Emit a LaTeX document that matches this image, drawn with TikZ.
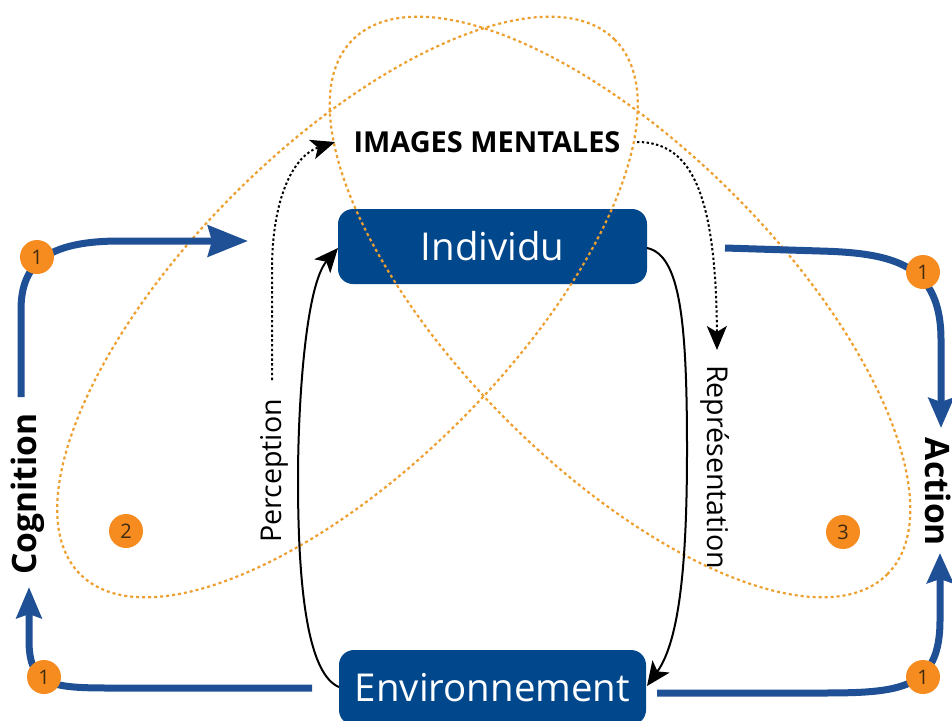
\documentclass[tikz,border=0pt]{standalone}
\usepackage{fontspec}
\setmainfont{Open Sans}
\usetikzlibrary{arrows.meta}
\definecolor{boxblue}{HTML}{00478C}
\definecolor{lineblue}{HTML}{1F4F94}
\definecolor{badgeor}{HTML}{F68B1F}
\definecolor{dotor}{HTML}{EDA02F}
\definecolor{numcol}{HTML}{3F2A10}
\tikzset{
  boxnode/.style={fill=boxblue,rounded corners=15pt,text=white,minimum height=75pt,inner sep=0pt,align=center,font=\fontsize{38.4}{40}\selectfont},
  badge/.style={circle,fill=badgeor,minimum size=34pt,inner sep=0pt,text=numcol,font=\fontsize{20}{22}\selectfont},
  boldlabel/.style={font=\bfseries\fontsize{33.6}{36}\selectfont,inner sep=0pt},
  thinlabel/.style={font=\fontsize{28.6}{30}\selectfont,inner sep=0pt},
  orbit/.style={draw=dotor,line width=2.2pt,dash pattern=on 3pt off 3pt},
  bluearrow/.style={draw=lineblue,line width=7pt},
  bluehead/.style 2 args={-{Stealth[length=#1,width=#2,inset=4pt]}},
  blackarrow/.style={draw=black,line width=2pt,-{Stealth[length=24pt,width=21pt,inset=6pt]}},
  dotarrow/.style={draw=black,line width=2pt,dash pattern=on 2.4pt off 2.4pt,-{Stealth[length=24pt,width=20pt,inset=6pt]}},
}
\begin{document}
\begin{tikzpicture}[x=1pt,y=-1pt]
\useasboundingbox (0,0) rectangle (952,720);
\clip (0,0) rectangle (952,720);
% boxes
\node[boxnode,minimum width=309pt] (indiv) at (492.5,246.5) {Individu};
\node[boxnode,minimum width=307pt] (env) at (492.5,687.5) {Environnement};
% ellipses
\draw[orbit] (347.5,307) ellipse [x radius=378pt,y radius=160pt,rotate=45];
\draw[orbit] (620,307) ellipse [x radius=378pt,y radius=160pt,rotate=-45];
% labels
\node[font=\bfseries\fontsize{28.9}{30}\selectfont,inner sep=0pt] (img) at (487,142) {IMAGES MENTALES};
\node[boldlabel,rotate=90] (cog) at (28,494) {Cognition};
\node[boldlabel,rotate=-90] (act) at (938,492) {Action};
\node[thinlabel,rotate=90] (perc) at (274,471) {Perception};
\node[thinlabel,rotate=-90] (repr) at (715,467) {Représentation};
% free ends
\coordinate (a1) at (21,397);
\coordinate (a2) at (248,241);
\coordinate (b1) at (725,248);
\coordinate (b2) at (941,428);
\coordinate (c1) at (312,688);
\coordinate (c2) at (29,587);
\coordinate (d1) at (657,693);
\coordinate (d2) at (940,553);
\coordinate (p1) at (272,380);
\coordinate (p2) at (335,142);
\coordinate (r1) at (637,142);
\coordinate (r2) at (717,350);
% blue connectors
\draw[bluearrow,bluehead={40pt}{31pt}] (a1) -- (21,310) .. controls (21,265) and (45,241) .. (120,241) -- (a2);
\draw[bluearrow,bluehead={30pt}{25pt}] (b1) -- (820,251) .. controls (895,253) and (941,265) .. (941,340) -- (b2);
\draw[bluearrow,bluehead={31pt}{25pt}] (c1) -- (110,688) .. controls (50,688) and (29,685) .. (29,640) -- (c2);
\draw[bluearrow,bluehead={30pt}{26pt}] (d1) -- (820,693) .. controls (900,693) and (940,690) .. (940,620) -- (d2);
% black connectors
\draw[blackarrow] (339,687) .. controls (310,675) and (298,600) .. (298,480) .. controls (298,400) and (306,285) .. (338,248);
\draw[blackarrow] (647,248) .. controls (680,255) and (687,320) .. (687,450) .. controls (687,560) and (680,640) .. (647,686);
% dotted connectors
\draw[dotarrow] (p1) -- (272,270) .. controls (272,195) and (295,155) .. (p2);
\draw[dotarrow] (r1) .. controls (690,142) and (716,190) .. (r2);
% badges on top
\node[badge] (n1) at (37,257) {1};
\node[badge] (n2) at (923,272) {1};
\node[badge] (n3) at (44,677) {1};
\node[badge] (n4) at (923,677) {1};
\node[badge] (n5) at (126,531) {2};
\node[badge] (n6) at (843,532) {3};
\end{tikzpicture}
\end{document}
